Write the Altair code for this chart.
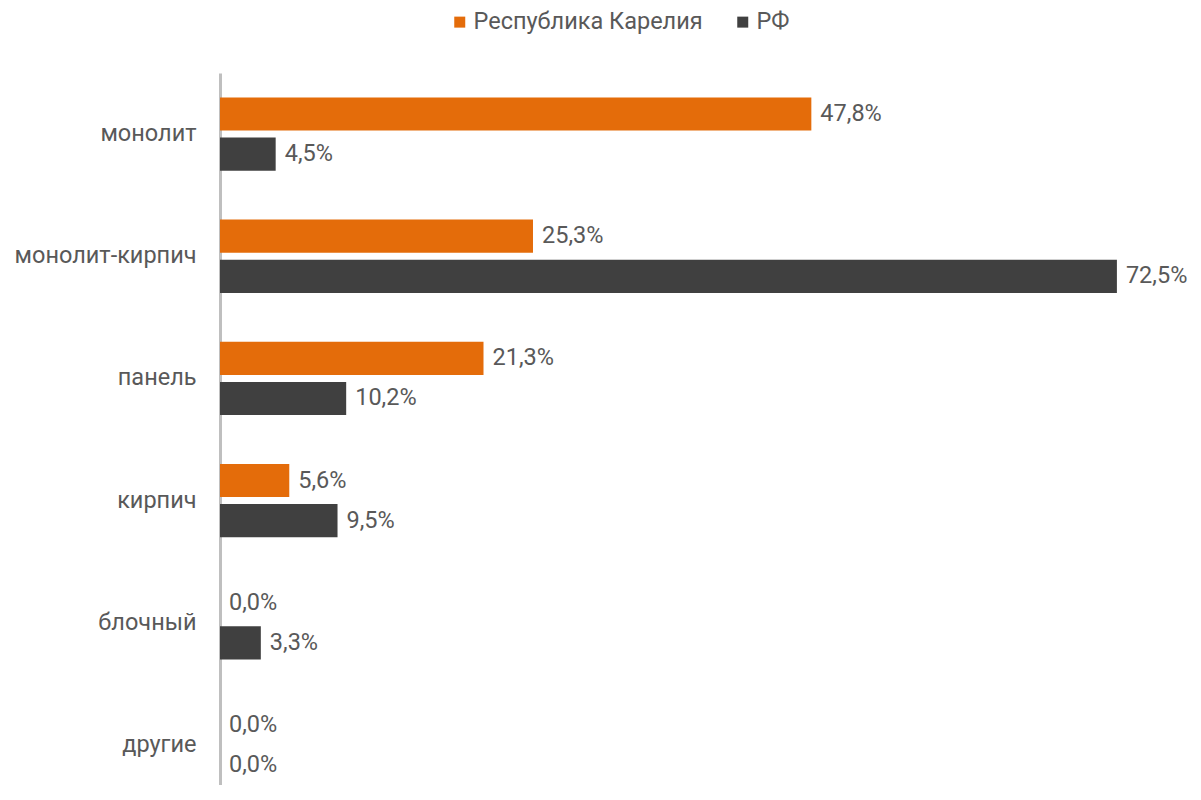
import altair as alt
import pandas as pd

categories = ["монолит", "монолит-кирпич", "панель", "кирпич", "блочный", "другие"]
series = ["Республика Карелия", "РФ"]
karelia = [47.8, 25.3, 21.3, 5.6, 0.0, 0.0]
rf = [4.5, 72.5, 10.2, 9.5, 3.3, 0.0]
colors = ["#E46C0A", "#404040"]

rows = []
for c, k, r in zip(categories, karelia, rf):
    for s, v in zip(series, [k, r]):
        rows.append({"cat": c, "series": s, "value": v,
                     "label": f"{v:.1f}".replace(".", ",") + "%"})
df = pd.DataFrame(rows)

FONT = "Roboto"
TXT = "#595959"
FS = 23.5

base = alt.Chart(df).encode(
    y=alt.Y("cat:N", sort=categories, title=None,
            scale=alt.Scale(paddingInner=0.4, paddingOuter=0.2, range=[0, 733]),
            axis=alt.Axis(domainColor="#BFBFBF", domainWidth=3, ticks=False,
                          labelFont=FONT, labelFontSize=FS, labelColor=TXT,
                          labelLimit=400, labelPadding=24)),
    yOffset=alt.YOffset("series:N", sort=series,
                        scale=alt.Scale(paddingInner=0.175, paddingOuter=0)),
)

bars = base.mark_bar().encode(
    x=alt.X("value:Q", scale=alt.Scale(domain=[0, 77.6], nice=False), axis=None),
    color=alt.Color("series:N", sort=series,
                    scale=alt.Scale(domain=series, range=colors),
                    legend=alt.Legend(title=None, orient="none", direction="horizontal",
                                      legendX=228, legendY=-63, symbolType="square",
                                      symbolSize=121, symbolStrokeWidth=0,
                                      labelFont=FONT, labelFontSize=FS, labelColor=TXT,
                                      labelLimit=400,
                                      labelOffset=2, columnPadding=28, padding=0)),
)

text = base.mark_text(align="left", baseline="middle", dx=9, font=FONT,
                      fontSize=FS, color=TXT).encode(
    x=alt.X("value:Q"),
    text="label:N",
)

chart = (bars + text).properties(
    width=960, height=712,
    autosize=alt.AutoSizeParams(type="none"),
    padding={"left": 212, "top": 65, "right": 12, "bottom": 0},
).configure_view(stroke=None)

chart.save("out.html", embed_options={"renderer": "svg", "actions": False})
